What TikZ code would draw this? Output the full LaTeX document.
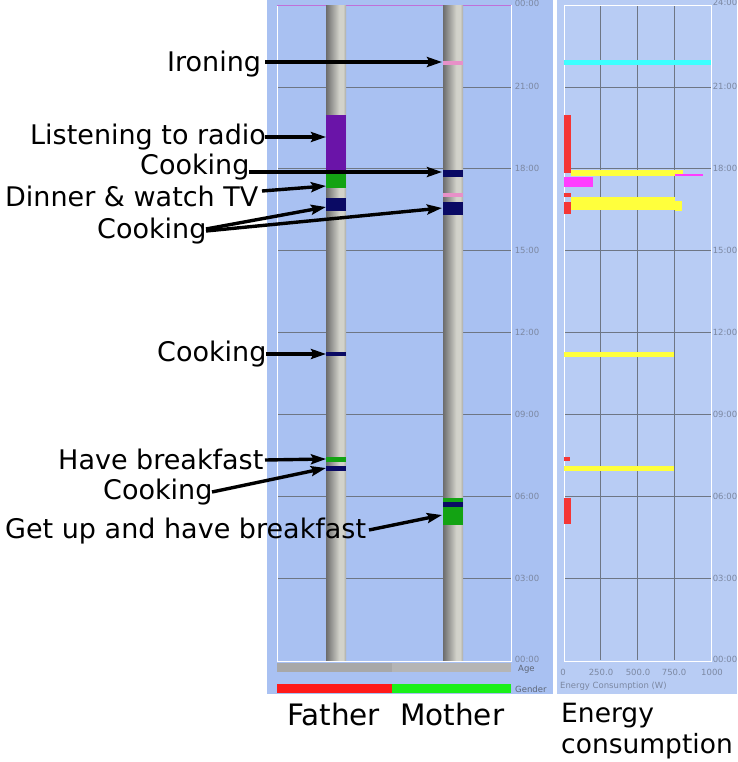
\documentclass[tikz,border=0pt]{standalone}
\usepackage{fontspec}
\setmainfont{DejaVu Sans}
\usetikzlibrary{arrows.meta}
\definecolor{lpanel}{HTML}{A9C1F2}
\definecolor{rpanel}{HTML}{B8CCF4}
\definecolor{gridc}{HTML}{6E7684}
\definecolor{tickc}{HTML}{7C88A2}
\definecolor{labc}{HTML}{5E6676}
\definecolor{pdark}{HTML}{6C6C6C}
\definecolor{plight}{HTML}{D2D2CA}
\definecolor{pmid}{HTML}{AAAAA4}
\definecolor{cpurple}{HTML}{6A14A8}
\definecolor{cgreen}{HTML}{13A313}
\definecolor{cnavy}{HTML}{0A0A64}
\definecolor{cpink}{HTML}{E890C8}
\definecolor{cred}{HTML}{F53535}
\definecolor{cyellow}{HTML}{FFFF3C}
\definecolor{cmag}{HTML}{FF3CFF}
\definecolor{ccyan}{HTML}{3CFFFF}
\definecolor{gred}{HTML}{FF1A1A}
\definecolor{ggreen}{HTML}{1AF01A}
\definecolor{toppink}{HTML}{C070D8}
\pgfdeclarehorizontalshading{pillarshade}{100bp}{color(0bp)=(pdark); color(25bp)=(pdark); color(58bp)=(plight); color(68bp)=(plight); color(75bp)=(pmid); color(100bp)=(pmid)}
\tikzset{
  grid/.style={draw=gridc, line width=0.7pt},
  tick/.style={font=\fontsize{8.5}{10}\selectfont, text=tickc, inner sep=0},
  axlab/.style={font=\fontsize{8.5}{10}\selectfont, text=labc, inner sep=0, anchor=west},
  lbl/.style={font=\fontsize{27}{30}\selectfont, anchor=base west, inner sep=0},
  big/.style={font=\fontsize{29.5}{32}\selectfont, anchor=base west, inner sep=0},
  arr/.style={-{Stealth[length=15pt,width=10pt,inset=2.5pt]}, line width=3.4pt, black},
}
\begin{document}
\begin{tikzpicture}[x=1pt,y=-1pt]
\useasboundingbox (0,0) rectangle (737,762);
\fill[white] (0,0) rectangle (737,762);
% ---------- left panel ----------
\fill[lpanel] (267,0) rectangle (553,694);
\foreach \h in {3,6,...,21}
  \draw[grid] (277,{660-\h*655/24}) -- (511,{660-\h*655/24});
\draw[white, line width=0.8pt] (277,5) -- (277,661) -- (511,661) -- (511,5);
\draw[toppink, line width=0.9pt] (277,5) -- (511,5);
% pillars
\shade[shading=pillarshade] (326,6) rectangle (346,660);
\shade[shading=pillarshade] (443,6) rectangle (463,660);
% father bands
\fill[cpurple] (326,115) rectangle (346,170);
\fill[cgreen] (326,170) rectangle (346,188);
\fill[cnavy] (326,198) rectangle (346,211);
\fill[cnavy] (326,352) rectangle (346,356);
\fill[cgreen] (326,457) rectangle (346,462);
\fill[cnavy] (326,466) rectangle (346,471);
% mother bands
\fill[cpink] (443,61) rectangle (463,65);
\fill[cnavy] (443,170) rectangle (463,177);
\fill[cpink] (443,193) rectangle (463,197);
\fill[cnavy] (443,202) rectangle (463,215);
\fill[cgreen] (443,498) rectangle (463,525);
\fill[cnavy] (443,502) rectangle (463,507);
% age & gender
\fill[black!34] (277,663) rectangle (392,672);
\fill[black!29] (392,663) rectangle (511,672);
\fill[gred] (277,684) rectangle (392,693);
\fill[ggreen] (392,684) rectangle (511,693);
% left tick labels
\node[tick] (lt0) at (527,3) {00:00};
\node[tick] (lt21) at (527,{660-21*655/24}) {21:00};
\node[tick] (lt18) at (527,{660-18*655/24}) {18:00};
\node[tick] (lt15) at (527,{660-15*655/24}) {15:00};
\node[tick] (lt12) at (527,{660-12*655/24}) {12:00};
\node[tick] (lt9) at (527,{660-9*655/24}) {09:00};
\node[tick] (lt6) at (527,{660-6*655/24}) {06:00};
\node[tick] (lt3) at (527,{660-3*655/24}) {03:00};
\node[tick] (ltz) at (527,659) {00:00};
\node[axlab] (age) at (518,669) {Age};
\node[axlab] (gender) at (515,689) {Gender};
% ---------- right panel ----------
\fill[rpanel] (557,0) rectangle (737,694);
\foreach \h in {3,6,...,21}
  \draw[grid] (564,{660-\h*655/24}) -- (711,{660-\h*655/24});
\foreach \x in {600.75,637.5,674.25}
  \draw[grid] (\x,5) -- (\x,660);
\draw[white, line width=0.8pt] (564,5) rectangle (711,661);
% bars
\fill[ccyan] (564,60) rectangle (711,65);
\fill[cred] (564,115) rectangle (571,173);
\fill[cyellow] (571,170) rectangle (683,176);
\draw[cmag, line width=1.2pt] (675,175) -- (703,175);
\fill[cmag] (564,177) rectangle (593,187);
\fill[cred] (564,193) rectangle (571,197);
\fill[cyellow] (571,197) rectangle (675,210);
\fill[cyellow] (675,201) rectangle (682,211);
\fill[cred] (564,202) rectangle (571,214);
\fill[cyellow] (564,352) rectangle (674,357);
\fill[cred] (564,457) rectangle (570,461);
\fill[cyellow] (564,466) rectangle (674,471);
\fill[cred] (564,498) rectangle (571,524);
% right tick labels
\node[tick] (rt24) at (725,2) {24:00};
\node[tick] (rt21) at (725,{660-21*655/24}) {21:00};
\node[tick] (rt18) at (725,{660-18*655/24}) {18:00};
\node[tick] (rt15) at (725,{660-15*655/24}) {15:00};
\node[tick] (rt12) at (725,{660-12*655/24}) {12:00};
\node[tick] (rt9) at (725,{660-9*655/24}) {09:00};
\node[tick] (rt6) at (725,{660-6*655/24}) {06:00};
\node[tick] (rt3) at (725,{660-3*655/24}) {03:00};
\node[tick] (rtz) at (725,659) {00:00};
\node[tick] (x0) at (563,672) {0};
\node[tick] (x250) at (601,672) {250.0};
\node[tick] (x500) at (638,672) {500.0};
\node[tick] (x750) at (674,672) {750.0};
\node[tick] (x1000) at (712,672) {1000};
\node[axlab, text=tickc] (xlab) at (560,686) {Energy Consumption (W)};
% ---------- labels ----------
\node[lbl] (ironing) at (167,72) {Ironing};
\node[lbl] (radio) at (30,145) {Listening to radio};
\node[lbl] (cook1) at (140,175) {Cooking};
\node[lbl] (dinner) at (5,206) {Dinner \& watch TV};
\node[lbl] (cook2) at (97,238) {Cooking};
\node[lbl] (cook3) at (157,361) {Cooking};
\node[lbl] (breakfast) at (58,469) {Have breakfast};
\node[lbl] (cook4) at (103,499) {Cooking};
\node[lbl] (getup) at (5,538) {Get up and have breakfast};
\node[big] (father) at (287,725) {Father};
\node[big] (mother) at (400,725) {Mother};
\node[lbl, font=\fontsize{26.5}{30}\selectfont] (energy) at (561,722) {Energy};
\node[lbl, font=\fontsize{26.5}{30}\selectfont] (consumption) at (561,753) {consumption};
% ---------- arrow end points ----------
\coordinate (a1s) at (265,62);  \coordinate (a1e) at (442,62);
\coordinate (a2s) at (265,137); \coordinate (a2e) at (326,137);
\coordinate (a3s) at (249,172); \coordinate (a3e) at (442,172);
\coordinate (a4s) at (262,191); \coordinate (a4e) at (326,186);
\coordinate (a5s) at (206,229); \coordinate (a5e) at (326,207);
\coordinate (a6s) at (206,231); \coordinate (a6e) at (442,208);
\coordinate (a7s) at (266,354); \coordinate (a7e) at (326,354);
\coordinate (a8s) at (265,460); \coordinate (a8e) at (326,459);
\coordinate (a9s) at (212,492); \coordinate (a9e) at (326,468);
\coordinate (a10s) at (369,530); \coordinate (a10e) at (442,515);
\draw[arr] (a1s) -- (a1e);
\draw[arr] (a2s) -- (a2e);
\draw[arr] (a3s) -- (a3e);
\draw[arr] (a4s) -- (a4e);
\draw[arr] (a5s) -- (a5e);
\draw[arr] (a6s) -- (a6e);
\draw[arr] (a7s) -- (a7e);
\draw[arr] (a8s) -- (a8e);
\draw[arr] (a9s) -- (a9e);
\draw[arr] (a10s) -- (a10e);
\end{tikzpicture}
\end{document}
